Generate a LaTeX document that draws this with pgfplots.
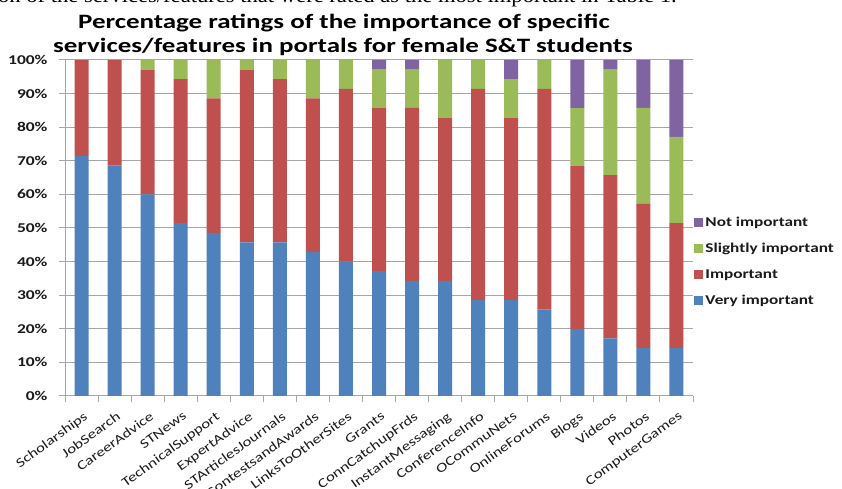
\documentclass[border=0pt]{standalone}
\usepackage{pgfplots}
\pgfplotsset{compat=1.18}
\usepackage{pgfplotstable}
\usepackage{fontspec}
\setmainfont{Carlito}
\newfontfamily\chartfont[FakeStretch=1.28]{Carlito}
\newfontfamily\tickfont[FakeStretch=1.3]{Carlito}
\newfontfamily\titlefont[FakeStretch=1.32]{Carlito}
\newfontfamily\serifdoc[FakeStretch=1.08]{Liberation Serif}
\definecolor{cblue}{HTML}{4F81BD}
\definecolor{cred}{HTML}{C0504D}
\definecolor{cgreen}{HTML}{9BBB59}
\definecolor{cpurple}{HTML}{8064A2}
\definecolor{gridc}{HTML}{A6A6A6}
\definecolor{txt}{HTML}{1A1A1A}

\pgfplotstableread{
x very imp slight not
0 71.43 28.57 0.00 0.00
1 68.57 31.43 0.00 0.00
2 60.00 37.14 2.86 0.00
3 51.43 42.86 5.71 0.00
4 48.57 40.00 11.43 0.00
5 45.71 51.43 2.86 0.00
6 45.71 48.57 5.71 0.00
7 42.86 45.71 11.43 0.00
8 40.00 51.43 8.57 0.00
9 37.14 48.57 11.43 2.86
10 34.29 51.43 11.43 2.86
11 34.29 48.57 17.14 0.00
12 28.57 62.86 8.57 0.00
13 28.57 54.29 11.43 5.71
14 25.71 65.71 8.57 0.00
15 20.00 48.57 17.14 14.29
16 17.14 48.57 31.43 2.86
17 14.29 42.86 28.57 14.29
18 14.29 37.14 25.71 22.86
}\datatable

\begin{document}
\begin{tikzpicture}[x=1bp,y=1bp]
\useasboundingbox (0,0) rectangle (842,489);
\node[anchor=base west, inner sep=0, font=\serifdoc\fontsize{21}{21}\selectfont] at (-2,486.5) {on of the services/features that were rated as the most important in Table 1.};
\node[anchor=base, inner sep=0, font=\titlefont\bfseries\fontsize{20.5}{20.5}\selectfont] at (344,460) {Percentage ratings of the importance of specific};
\node[anchor=base, inner sep=0, font=\titlefont\bfseries\fontsize{20.5}{20.5}\selectfont] at (343,436) {services/features in portals for female S\&T students};
\begin{axis}[
  at={(65bp,93bp)}, anchor=south west,
  scale only axis, width=628bp, height=336bp,
  ybar stacked, bar width=14bp,
  xmin=-0.5, xmax=18.5, ymin=0, ymax=100,
  /pgf/number format/assume math mode=true,
  axis x line*=bottom, axis y line*=left,
  axis line style={draw=gridc, line width=1pt, -},
  ytick={0,10,...,100},
  yticklabel={\pgfmathprintnumber{\tick}\%},
  ymajorgrids, grid style={draw=gridc, line width=1pt},
  xtick={0,...,18},
  xticklabels={Scholarships,JobSearch,CareerAdvice,STNews,TechnicalSupport,ExpertAdvice,STArticlesJournals,ContestsandAwards,LinksToOtherSites,Grants,ConnCatchupFrds,InstantMessaging,ConferenceInfo,OCommuNets,OnlineForums,Blogs,Videos,Photos,ComputerGames},
  major x tick style={draw=none},
  minor xtick={-0.5,0.5,...,18.5},
  minor x tick style={draw=gridc, line width=1pt},
  minor tick length=6bp,
  major tick length=6bp,
  tick align=outside,
  y tick style={draw=gridc, line width=1pt},
  tick label style={text=txt},
  yticklabel style={font=\tickfont\bfseries\fontsize{13.5}{13.5}\selectfont, xshift=-8bp},
  xticklabel style={font=\chartfont\fontsize{13.2}{13.2}\selectfont, rotate=36, anchor=north east, inner sep=1bp, yshift=-7bp, xshift=-3bp},
  legend style={at={(1.002,0.54)}, anchor=north west, draw=none, fill=none,
    font=\chartfont\bfseries\fontsize{13.5}{13.5}\selectfont, text=txt,
    row sep=11.5bp, inner sep=0pt},
  legend cell align=left,
  reverse legend,
  legend image code/.code={\fill[#1] (0bp,-4.5bp) rectangle (9bp,4.5bp);},
]
\addplot[fill=cblue, draw=none] table[x=x, y=very] {\datatable};
\addlegendentry{Very important}
\addplot[fill=cred, draw=none] table[x=x, y=imp] {\datatable};
\addlegendentry{Important}
\addplot[fill=cgreen, draw=none] table[x=x, y=slight] {\datatable};
\addlegendentry{Slightly important}
\addplot[fill=cpurple, draw=none] table[x=x, y=not] {\datatable};
\addlegendentry{Not important}
\end{axis}
\end{tikzpicture}
\end{document}
